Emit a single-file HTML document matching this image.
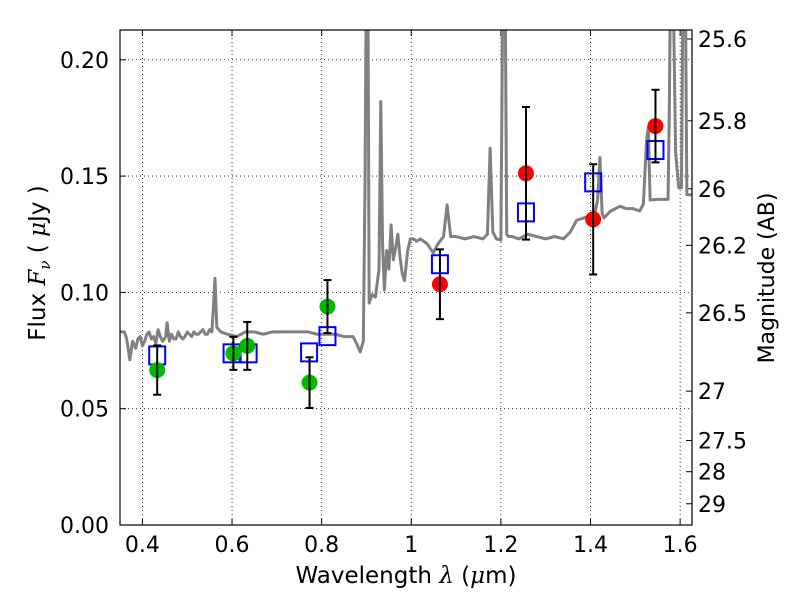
<!DOCTYPE html>
<html><head><meta charset="utf-8"><style>
body{margin:0;background:#fff}
svg{display:block;font-family:"DejaVu Sans","Liberation Sans",sans-serif}
</style></head><body>
<svg id="chart" width="800" height="600" viewBox="0 0 800 600"></svg>
<script>
const xTicks=[0.4,0.6,0.8,1.0,1.2,1.4,1.6];
const xTickLabels=["0.4","0.6","0.8","1","1.2","1.4","1.6"];
const yTicks=[0,0.05,0.10,0.15,0.20];
const yTickLabels=["0.00","0.05","0.10","0.15","0.20"];
const magTicks=[25.6,25.8,26,26.2,26.5,27,27.5,28,29];
const magLabels=["25.6","25.8","26","26.2","26.5","27","27.5","28","29"];
const specLam=[0.35,0.36,0.365,0.372,0.378,0.385,0.39,0.395,0.40,0.405,0.41,0.415,0.42,0.425,0.43,0.435,0.44,0.445,0.452,0.455,0.46,0.465,0.47,0.475,0.48,0.485,0.49,0.495,0.50,0.505,0.51,0.515,0.52,0.525,0.53,0.535,0.54,0.545,0.55,0.555,0.558,0.562,0.566,0.575,0.59,0.61,0.63,0.65,0.67,0.69,0.71,0.73,0.75,0.77,0.79,0.81,0.83,0.85,0.87,0.878,0.886,0.893,0.897,0.9,0.903,0.906,0.912,0.92,0.928,0.932,0.936,0.94,0.945,0.95,0.955,0.96,0.965,0.97,0.975,0.98,0.985,0.992,0.998,1.005,1.012,1.02,1.035,1.049,1.06,1.072,1.08,1.088,1.1,1.12,1.14,1.16,1.17,1.176,1.182,1.19,1.2,1.205,1.209,1.213,1.217,1.225,1.24,1.26,1.28,1.3,1.32,1.34,1.355,1.369,1.385,1.4,1.41,1.416,1.421,1.426,1.43,1.445,1.466,1.48,1.495,1.51,1.518,1.525,1.529,1.533,1.55,1.573,1.576,1.579,1.583,1.59,1.597,1.603,1.607,1.611,1.615,1.627];
const specFlux=[0.083,0.083,0.080,0.071,0.079,0.076,0.080,0.081,0.077,0.079,0.082,0.083,0.080,0.081,0.078,0.084,0.081,0.079,0.081,0.087,0.079,0.082,0.080,0.080,0.083,0.081,0.080,0.081,0.083,0.082,0.081,0.083,0.082,0.082,0.083,0.084,0.082,0.082,0.084,0.083,0.092,0.106,0.085,0.083,0.082,0.081,0.083,0.083,0.082,0.083,0.083,0.083,0.083,0.083,0.082,0.082,0.082,0.081,0.081,0.078,0.0744,0.079,0.150,0.25,0.25,0.0954,0.099,0.098,0.110,0.182,0.120,0.101,0.118,0.110,0.129,0.114,0.119,0.125,0.115,0.108,0.105,0.118,0.123,0.123,0.122,0.123,0.121,0.117,0.121,0.124,0.1376,0.124,0.124,0.123,0.124,0.123,0.125,0.162,0.126,0.123,0.1225,0.25,0.25,0.125,0.124,0.124,0.123,0.125,0.124,0.123,0.124,0.123,0.126,0.131,0.132,0.133,0.134,0.140,0.158,0.134,0.132,0.135,0.137,0.136,0.136,0.135,0.138,0.165,0.171,0.1397,0.140,0.140,0.18,0.25,0.25,0.16,0.145,0.145,0.25,0.25,0.142,0.142];
const phLam=[0.433,0.603,0.634,0.773,0.813,1.064,1.256,1.406,1.545];
const phFlux=[0.0666,0.0738,0.0770,0.0612,0.0939,0.1035,0.1512,0.1314,0.1715];
const phErr=[0.0106,0.0071,0.0103,0.0109,0.0114,0.0150,0.0285,0.0237,0.0156];
const phColor=["green","green","green","green","green","red","red","red","red"];
const modLam=[0.433,0.599,0.637,0.772,0.813,1.064,1.256,1.406,1.545];
const modFlux=[0.0729,0.0738,0.0738,0.0742,0.0812,0.1121,0.1344,0.1473,0.1612];

const L=120,R=692,T=30,B=525,X0=0.35,X1=1.6265,Y0=0,Y1=0.2128;
const sx=v=>L+(v-X0)/(X1-X0)*(R-L);
const sy=v=>B-(v-Y0)/(Y1-Y0)*(B-T);
const NS="http://www.w3.org/2000/svg";
const svg=document.getElementById('chart');
function mk(tag,at,parent){const e=document.createElementNS(NS,tag);for(const k in at)e.setAttribute(k,at[k]);(parent||svg).appendChild(e);return e;}
const defs=mk('defs',{});const cp=mk('clipPath',{id:'cp'},defs);mk('rect',{x:L,y:T,width:R-L,height:B-T},cp);
const grid=mk('g',{});


xTicks.forEach((t,i)=>{const x=sx(t);
 mk('line',{x1:x,x2:x,y1:T,y2:B,stroke:'#000','stroke-width':0.8,'stroke-dasharray':'1,3'},grid);
 mk('line',{x1:x,x2:x,y1:B,y2:B-6,stroke:'#000'});mk('line',{x1:x,x2:x,y1:T,y2:T+6,stroke:'#000'});
 const tx=mk('text',{x:x,y:B+27,'font-size':22,'text-anchor':'middle'});tx.textContent=xTickLabels[i];
 
 
});
yTicks.forEach((t,i)=>{const y=sy(t);
 if(t>0) mk('line',{x1:L,x2:R,y1:y,y2:y,stroke:'#000','stroke-width':0.8,'stroke-dasharray':'1,3'},grid);
 mk('line',{x1:L,x2:L+6,y1:y,y2:y,stroke:'#000'});
 const tx=mk('text',{x:L-11,y:y+8,'font-size':22,'text-anchor':'end'});tx.textContent=yTickLabels[i];
 
 
});
magTicks.forEach((m,i)=>{const y=sy(Math.pow(10,(23.9-m)/2.5));
 mk('line',{x1:R,x2:R-6,y1:y,y2:y,stroke:'#000'});
 const tx=mk('text',{x:R+6,y:y+8,'font-size':22});tx.textContent=magLabels[i];
 
 
});
const plot=mk('g',{'clip-path':'url(#cp)'});
const sp=mk('polyline',{points:specLam.map((l,i)=>sx(l)+','+sy(specFlux[i])).join(' '),fill:'none',stroke:'#808080','stroke-width':3,'stroke-linejoin':'round'},plot);


modLam.forEach((l,i)=>{const r=mk('rect',{x:sx(l)-8,y:sy(modFlux[i])-9,width:16,height:18,fill:'none',stroke:'#0000ff','stroke-width':2},plot);
 
 
});
phLam.forEach((l,i)=>{const c=mk('circle',{cx:sx(l),cy:sy(phFlux[i]),r:8,fill:phColor[i]==='green'?'#00bb00':'#ff0000'},plot);
 
 
});
phLam.forEach((l,i)=>{const x=sx(l),y1=sy(phFlux[i]+phErr[i]),y2=sy(phFlux[i]-phErr[i]);
 const g=mk('g',{stroke:'#000','stroke-width':2});
 
 
 mk('line',{x1:x,x2:x,y1:y1,y2:y2},g);mk('line',{x1:x-4,x2:x+4,y1:y1,y2:y1},g);mk('line',{x1:x-4,x2:x+4,y1:y2,y2:y2},g);
});
const fr=mk('rect',{x:L,y:T,width:R-L,height:B-T,fill:'none',stroke:'#000','stroke-width':1.2});


const xl=mk('text',{x:406,y:583,'font-size':23,'text-anchor':'middle'});
xl.innerHTML='Wavelength  <tspan font-style="italic" font-family="DejaVu Serif, serif">λ</tspan> (<tspan font-style="italic" font-family="DejaVu Serif, serif">μ</tspan>m)';


const yl=mk('text',{transform:'translate(45,263) rotate(-90)','font-size':23,'text-anchor':'middle'});
yl.innerHTML='Flux  <tspan font-style="italic" font-family="DejaVu Serif, serif">F</tspan><tspan font-style="italic" font-size="15" dy="5" font-family="DejaVu Serif, serif">ν</tspan><tspan dy="-5">  (  </tspan><tspan font-style="italic" font-family="DejaVu Serif, serif">μ</tspan>Jy )';


const rl=mk('text',{transform:'translate(774,278) rotate(-90)','font-size':22,'text-anchor':'middle'});
rl.textContent='Magnitude (AB)';


</script>
</body></html>
